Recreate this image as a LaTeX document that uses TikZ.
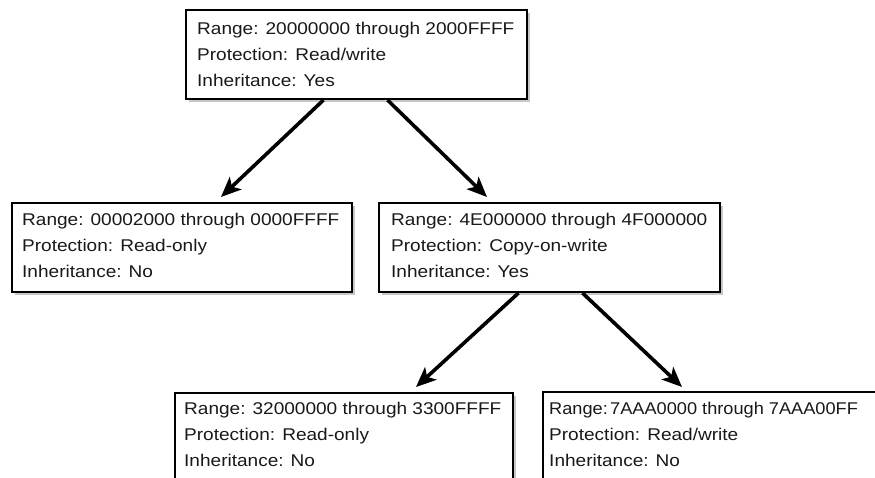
\documentclass[tikz,border=0pt]{standalone}
\usepackage{fontspec}
\setmainfont{Liberation Sans}[FakeStretch=1.12]
\usetikzlibrary{arrows.meta,calc,shadows}
\tikzset{
  memblock/.style={draw=black, line width=2pt, fill=white, rectangle, inner sep=0pt,
    minimum width=#1, minimum height=89pt,
    general shadow={fill=black!22, shadow xshift=3pt, shadow yshift=-3pt}},
  memblock/.default=341pt,
  memtext/.style={anchor=base west, inner sep=0pt, text=black!90,
    font=\fontsize{17}{26}\selectfont},
  link/.style={line width=3.6pt, -{Stealth[length=20pt,width=17pt,inset=5pt]}}
}
\newcommand{\memlines}[3]{\begin{tabular}[t]{@{}l@{}}#1\\#2\\#3\end{tabular}}
\begin{document}
\begin{tikzpicture}[x=1pt,y=-1pt]
\useasboundingbox (0,0) rectangle (875,478);
\clip (0,0) rectangle (875,478);
\fill[white] (0,0) rectangle (875,478);

\node[memblock] (b1) at (356.5,54.5) {};
\node[memblock=340pt] (b2) at (182,247.5) {};
\node[memblock] (b3) at (549.5,247.5) {};
\node[memblock=338pt] (b4) at (344,437.5) {};
\node[memblock] (b5) at (713.5,436.5) {};

\node[memtext] (t1) at ($(b1.north west)+(12,26)$)
  {\memlines{Range: 20000000 through 2000FFFF}{Protection: Read/write}{Inheritance: Yes}};
\node[memtext] (t2) at ($(b2.north west)+(11,24)$)
  {\memlines{Range: 00002000 through 0000FFFF}{Protection: Read-only}{Inheritance: No}};
\node[memtext] (t3) at ($(b3.north west)+(13,24)$)
  {\memlines{Range: 4E000000 through 4F000000}{Protection: Copy-on-write}{Inheritance: Yes}};
\node[memtext] (t4) at ($(b4.north west)+(10,22)$)
  {\memlines{Range: 32000000 through 3300FFFF}{Protection: Read-only}{Inheritance: No}};
\node[memtext] (t5) at ($(b5.north west)+(7,23)$)
  {\memlines{\scalebox{0.955}[1]{Range:\hspace{0.15em}7AAA0000 through 7AAA00FF}}{Protection: Read/write}{Inheritance: No}};

\draw[link] ($(b1.south)+(-33,0)$) -- ($(b2.north west)+(210,-5)$);
\draw[link] ($(b1.south)+(31,0)$) -- ($(b3.north west)+(109,-5)$);
\draw[link] ($(b3.south)+(-31,0)$) -- ($(b4.north west)+(242,-5)$);
\draw[link] ($(b3.south)+(33,0)$) -- ($(b5.north west)+(140,-4)$);
\end{tikzpicture}
\end{document}
